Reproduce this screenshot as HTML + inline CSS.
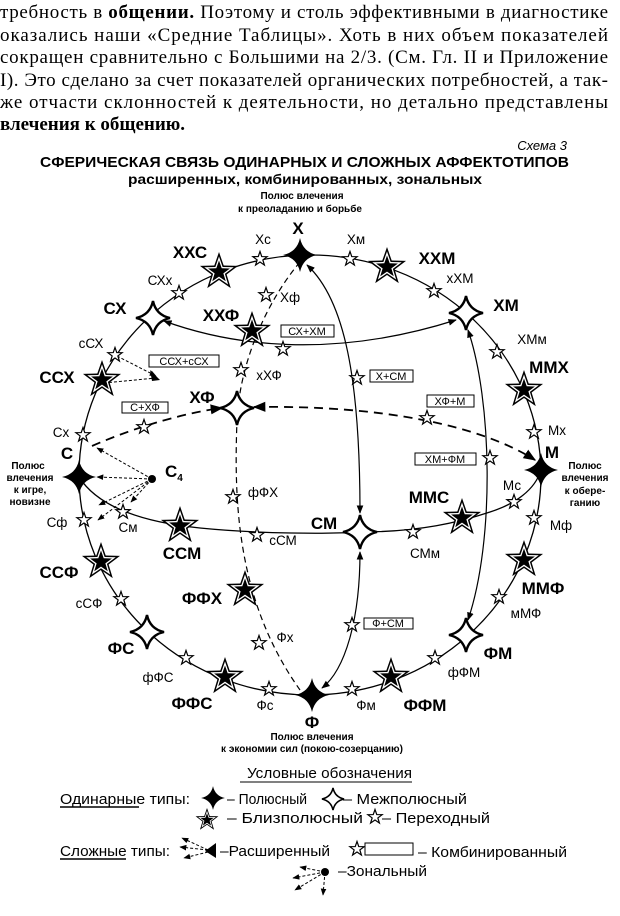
<!DOCTYPE html>
<html><head><meta charset="utf-8"><style>
html,body{margin:0;padding:0;background:#fff}
svg{display:block}
text{font-family:"Liberation Sans",sans-serif;fill:#000}
.s{font-family:"Liberation Serif",serif;font-size:19px}
.b{font-weight:bold;font-size:17px}
.l{font-size:13.5px}
.p{font-size:10px;font-weight:bold}
.g{font-size:15px}
</style></head><body>
<svg width="620" height="916" viewBox="0 0 620 916" xmlns="http://www.w3.org/2000/svg">
<defs>
<path id="st" d="M0,-10 L2.35,-3.24 9.51,-3.09 3.80,1.24 5.88,8.09 0,4 -5.88,8.09 -3.80,1.24 -9.51,-3.09 -2.35,-3.24Z"/>
<g id="bz"><use href="#st" transform="scale(2)" fill="#000"/><use href="#st" transform="scale(1.55)" fill="#fff"/><use href="#st" transform="scale(1.15)" fill="#000"/></g>
<g id="sm"><use href="#st" transform="scale(0.75)" fill="#fff" stroke="#000" stroke-width="1.6"/></g>
<path id="d4" d="M0,-17 Q3,-3 17,0 Q3,3 0,17 Q-3,3 -17,0 Q-3,-3 0,-17Z"/>
<g id="pol"><use href="#d4" fill="#000"/></g>
<g id="mz"><use href="#d4" fill="#fff" stroke="#000" stroke-width="2.4"/></g>
<marker id="ar" viewBox="0 0 10 10" refX="9" refY="5" markerWidth="7" markerHeight="7" orient="auto-start-reverse"><path d="M0,1 L10,5 L0,9Z" fill="#000"/></marker>
</defs>

<text class="s" x="0" y="18" textLength="608" lengthAdjust="spacing">требность в <tspan font-weight="bold">общении.</tspan> Поэтому и столь эффективными в диагностике</text>
<text class="s" x="0" y="41" textLength="608" lengthAdjust="spacing">оказались наши «Средние Таблицы». Хоть в них объем показателей</text>
<text class="s" x="0" y="63" textLength="608" lengthAdjust="spacing">сокращен сравнительно с Большими на 2/3. (См. Гл. II и Приложение</text>
<text class="s" x="0" y="86" textLength="608" lengthAdjust="spacing">I). Это сделано за счет показателей органических потребностей, а так-</text>
<text class="s" x="0" y="108" textLength="608" lengthAdjust="spacing">же отчасти склонностей к деятельности, но детально представлены</text>
<text class="s" x="0" y="130" font-weight="bold">влечения к общению.</text>

<text x="567" y="150" font-size="13" font-style="italic" text-anchor="end">Схема 3</text>
<text x="40" y="167" font-size="15" font-weight="bold" textLength="529" lengthAdjust="spacingAndGlyphs">СФЕРИЧЕСКАЯ СВЯЗЬ ОДИНАРНЫХ И СЛОЖНЫХ АФФЕКТОТИПОВ</text>
<text x="128" y="184" font-size="13.5" font-weight="bold" textLength="354" lengthAdjust="spacingAndGlyphs">расширенных, комбинированных, зональных</text>
<text x="302" y="199" class="p" text-anchor="middle">Полюс влечения</text>
<text x="300" y="212" class="p" text-anchor="middle">к преоладанию и борьбе</text>

<ellipse cx="310" cy="475" rx="231" ry="220" fill="none" stroke="#000" stroke-width="1.3"/>
<path d="M79,477 C100,510 150,523 200,528 C260,534 330,534 360,532 C420,532 460,522 490,512 C515,504 535,490 541,470" fill="none" stroke="#000" stroke-width="1.3"/>
<path d="M300,262 C268,300 240,360 237,420 C234,500 236,600 300,690" fill="none" stroke="#000" stroke-width="1.2" stroke-dasharray="6,4"/>
<path d="M307,265 C345,300 360,380 360,513" fill="none" stroke="#000" stroke-width="1.2" marker-start="url(#ar)" marker-end="url(#ar)"/>
<path d="M360,552 C360,620 345,670 322,688" fill="none" stroke="#000" stroke-width="1.2" marker-start="url(#ar)" marker-end="url(#ar)"/>
<path d="M468,330 C492,400 495,540 468,620" fill="none" stroke="#000" stroke-width="1.2" marker-start="url(#ar)" marker-end="url(#ar)"/>
<path d="M164,321 C230,345 330,360 456,320" fill="none" stroke="#000" stroke-width="1.2" marker-start="url(#ar)" marker-end="url(#ar)"/>
<path d="M92,446 C140,425 190,412 222,408" fill="none" stroke="#000" stroke-width="1.8" stroke-dasharray="9,6" marker-end="url(#ar)"/>
<path d="M254,407 C380,405 480,425 535,460" fill="none" stroke="#000" stroke-width="1.8" stroke-dasharray="9,6" marker-start="url(#ar)" marker-end="url(#ar)"/>
<g fill="none" stroke="#000" stroke-width="1" stroke-dasharray="3,2">
<path d="M117,356 L156,376" marker-end="url(#ar)"/>
<path d="M104,383 L156,378"/>
<path d="M152,479 L97,448" marker-end="url(#ar)"/>
<path d="M152,479 L97,477" marker-end="url(#ar)"/>
<path d="M152,479 L99,505" marker-end="url(#ar)"/>
<path d="M152,479 L98,520" marker-end="url(#ar)"/>
<path d="M152,479 L131,502" marker-end="url(#ar)"/>
</g>
<path d="M150,370 L160,380 L152,381Z" fill="#000"/>
<circle cx="152" cy="479" r="4" fill="#000"/>

<g fill="#fff" stroke="#000" stroke-width="1">
<rect x="281" y="325" width="53" height="12"/>
<rect x="149" y="355" width="70" height="12"/>
<rect x="370" y="370" width="43" height="12"/>
<rect x="122" y="402" width="46" height="11"/>
<rect x="427" y="395" width="47" height="12"/>
<rect x="415" y="453" width="61" height="12"/>
<rect x="364" y="618" width="49" height="11"/>
</g>
<g font-size="11">
<text x="307" y="335" text-anchor="middle">СХ+ХМ</text>
<text x="184" y="365" text-anchor="middle">ССХ+сСХ</text>
<text x="391" y="380" text-anchor="middle">Х+СМ</text>
<text x="145" y="411" text-anchor="middle">С+ХФ</text>
<text x="450" y="405" text-anchor="middle">ХФ+М</text>
<text x="445" y="463" text-anchor="middle">ХМ+ФМ</text>
<text x="388" y="627" text-anchor="middle">Ф+СМ</text>
</g>

<use href="#pol" x="300" y="255"/>
<use href="#pol" x="79" y="477"/>
<use href="#pol" x="541" y="470"/>
<use href="#pol" x="312" y="695"/>
<use href="#mz" x="153" y="318"/>
<use href="#mz" x="466" y="313"/>
<use href="#mz" x="237" y="408"/>
<use href="#mz" x="360" y="532"/>
<use href="#mz" x="147" y="632"/>
<use href="#mz" x="466" y="635"/>
<use href="#bz" x="219" y="272"/>
<use href="#bz" x="387" y="267"/>
<use href="#bz" x="252" y="331"/>
<use href="#bz" x="102" y="380"/>
<use href="#bz" x="524" y="390"/>
<use href="#bz" x="462" y="518"/>
<use href="#bz" x="180" y="526"/>
<use href="#bz" x="101" y="562"/>
<use href="#bz" x="524" y="560"/>
<use href="#bz" x="245" y="590"/>
<use href="#bz" x="225" y="677"/>
<use href="#bz" x="391" y="677"/>
<g>
<use href="#sm" x="260" y="259"/><use href="#sm" x="350" y="259"/>
<use href="#sm" x="179" y="293"/><use href="#sm" x="434" y="291"/>
<use href="#sm" x="266" y="295"/><use href="#sm" x="283" y="349"/>
<use href="#sm" x="115" y="355"/><use href="#sm" x="497" y="352"/>
<use href="#sm" x="241" y="370"/><use href="#sm" x="357" y="378"/>
<use href="#sm" x="427" y="418"/><use href="#sm" x="144" y="427"/>
<use href="#sm" x="83" y="435"/><use href="#sm" x="534" y="432"/>
<use href="#sm" x="490" y="458"/><use href="#sm" x="514" y="502"/>
<use href="#sm" x="233" y="497"/><use href="#sm" x="84" y="520"/>
<use href="#sm" x="123" y="512"/><use href="#sm" x="257" y="535"/>
<use href="#sm" x="413" y="532"/><use href="#sm" x="534" y="518"/>
<use href="#sm" x="121" y="599"/><use href="#sm" x="499" y="597"/>
<use href="#sm" x="352" y="625"/><use href="#sm" x="259" y="643"/>
<use href="#sm" x="186" y="658"/><use href="#sm" x="435" y="658"/>
<use href="#sm" x="269" y="689"/><use href="#sm" x="352" y="689"/>
</g>

<g class="b">
<text x="298" y="234" text-anchor="middle">Х</text>
<text x="190" y="258" text-anchor="middle">ХХС</text>
<text x="437" y="264" text-anchor="middle">ХХМ</text>
<text x="115" y="314" text-anchor="middle">СХ</text>
<text x="506" y="311" text-anchor="middle">ХМ</text>
<text x="221" y="321" text-anchor="middle">ХХФ</text>
<text x="57" y="383" text-anchor="middle">ССХ</text>
<text x="549" y="373" text-anchor="middle">ММХ</text>
<text x="202" y="403" text-anchor="middle">ХФ</text>
<text x="67" y="459" text-anchor="middle">С</text>
<text x="552" y="458" text-anchor="middle">М</text>
<text x="165" y="477">С<tspan font-size="10" dy="4">4</tspan></text>
<text x="429" y="503" text-anchor="middle">ММС</text>
<text x="324" y="529" text-anchor="middle">СМ</text>
<text x="182" y="559" text-anchor="middle">ССМ</text>
<text x="59" y="578" text-anchor="middle">ССФ</text>
<text x="543" y="594" text-anchor="middle">ММФ</text>
<text x="202" y="604" text-anchor="middle">ФФХ</text>
<text x="121" y="654" text-anchor="middle">ФС</text>
<text x="498" y="659" text-anchor="middle">ФМ</text>
<text x="192" y="709" text-anchor="middle">ФФС</text>
<text x="425" y="711" text-anchor="middle">ФФМ</text>
<text x="312" y="728" text-anchor="middle">Ф</text>
</g>
<g class="l">
<text x="263" y="244" text-anchor="middle">Хс</text>
<text x="356" y="244" text-anchor="middle">Хм</text>
<text x="160" y="285" text-anchor="middle">СХх</text>
<text x="460" y="283" text-anchor="middle">хХМ</text>
<text x="290" y="302" text-anchor="middle">Хф</text>
<text x="91" y="348" text-anchor="middle">сСХ</text>
<text x="532" y="344" text-anchor="middle">ХМм</text>
<text x="269" y="380" text-anchor="middle">хХФ</text>
<text x="61" y="437" text-anchor="middle">Сх</text>
<text x="557" y="435" text-anchor="middle">Мх</text>
<text x="512" y="490" text-anchor="middle">Мс</text>
<text x="263" y="497" text-anchor="middle">фФХ</text>
<text x="57" y="527" text-anchor="middle">Сф</text>
<text x="128" y="532" text-anchor="middle">См</text>
<text x="283" y="545" text-anchor="middle">сСМ</text>
<text x="425" y="558" text-anchor="middle">СМм</text>
<text x="561" y="530" text-anchor="middle">Мф</text>
<text x="89" y="608" text-anchor="middle">сСФ</text>
<text x="526" y="618" text-anchor="middle">мМФ</text>
<text x="285" y="642" text-anchor="middle">Фх</text>
<text x="158" y="682" text-anchor="middle">фФС</text>
<text x="464" y="677" text-anchor="middle">фФМ</text>
<text x="265" y="710" text-anchor="middle">Фс</text>
<text x="366" y="710" text-anchor="middle">Фм</text>
</g>
<g class="p" text-anchor="middle">
<text x="28" y="469">Полюс</text>
<text x="30" y="481">влечения</text>
<text x="30" y="493">к игре,</text>
<text x="30" y="505">новизне</text>
<text x="585" y="469">Полюс</text>
<text x="585" y="481">влечения</text>
<text x="585" y="494">к обере-</text>
<text x="585" y="506">ганию</text>
<text x="312" y="740">Полюс влечения</text>
<text x="312" y="752">к экономии сил (покою-созерцанию)</text>
</g>

<!-- legend -->
<text class="g" x="247" y="778" textLength="165" lengthAdjust="spacingAndGlyphs">Условные обозначения</text>
<line x1="240" y1="782" x2="412" y2="782" stroke="#000" stroke-width="1"/>
<text class="g" x="60" y="804" textLength="130" lengthAdjust="spacingAndGlyphs">Одинарные типы:</text>
<line x1="60" y1="807" x2="139" y2="807" stroke="#000" stroke-width="1.5"/>
<use href="#pol" transform="translate(213,798) scale(0.7)"/>
<text class="g" x="227" y="804" textLength="80" lengthAdjust="spacingAndGlyphs">– Полюсный</text>
<use href="#mz" transform="translate(333,799) scale(0.65)"/>
<text class="g" x="343" y="804" textLength="124" lengthAdjust="spacingAndGlyphs">– Межполюсный</text>
<use href="#bz" transform="translate(207,820) scale(0.6)"/>
<text class="g" x="227" y="823" textLength="136" lengthAdjust="spacingAndGlyphs">– Близполюсный</text>
<use href="#sm" x="375" y="817"/>
<text class="g" x="382" y="823" textLength="108" lengthAdjust="spacingAndGlyphs">– Переходный</text>
<text class="g" x="60" y="856" textLength="110" lengthAdjust="spacingAndGlyphs">Сложные типы:</text>
<line x1="60" y1="859" x2="126" y2="859" stroke="#000" stroke-width="1.5"/>
<g fill="none" stroke="#000" stroke-width="1" stroke-dasharray="3,2">
<path d="M208,850 L182,838" marker-end="url(#ar)"/>
<path d="M208,850 L180,847" marker-end="url(#ar)"/>
<path d="M208,852 L184,858" marker-end="url(#ar)"/>
<path d="M325,872 L300,867" marker-end="url(#ar)"/>
<path d="M325,872 L293,878" marker-end="url(#ar)"/>
<path d="M325,872 L295,890" marker-end="url(#ar)"/>
<path d="M325,872 L323,895" marker-end="url(#ar)"/>
</g>
<path d="M205,851 L216,843 L216,858Z" fill="#000"/>
<circle cx="325" cy="872" r="4" fill="#000"/>
<text class="g" x="220" y="856" textLength="110" lengthAdjust="spacingAndGlyphs">–Расширенный</text>
<use href="#sm" x="357" y="849"/>
<rect x="365" y="843" width="48" height="12" fill="#fff" stroke="#000" stroke-width="1"/>
<text class="g" x="418" y="857" textLength="149" lengthAdjust="spacingAndGlyphs">– Комбинированный</text>
<text class="g" x="338" y="876" textLength="89" lengthAdjust="spacingAndGlyphs">–Зональный</text>
</svg>
</body></html>
